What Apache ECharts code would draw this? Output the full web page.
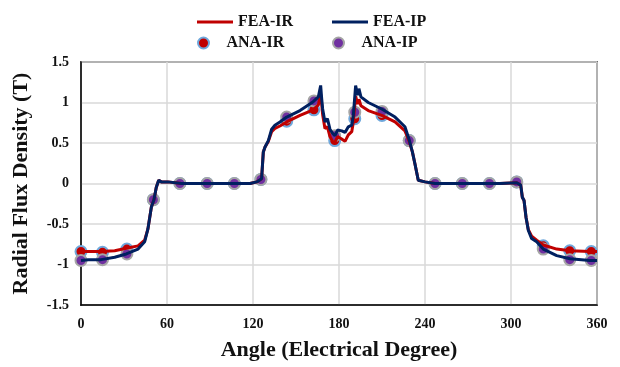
<!DOCTYPE html>
<html>
<head>
<meta charset="utf-8">
<script src="https://cdn.jsdelivr.net/npm/echarts@6/dist/echarts.min.js"></script>
<style>
  html, body { margin: 0; padding: 0; background: #fff; }
  #chart { width: 620px; height: 367px; }
</style>
</head>
<body>
<div id="chart"></div>
<script>
// FEA curves (angle in electrical degrees)
const feaAngle = [0, 5, 14, 23.5, 31.6, 39.8, 44.4, 46.7, 49.1, 50.9, 52.5, 54.2, 56, 60.7, 70, 90, 105, 118,
  122.6, 126, 127.2, 128.4, 130.7, 133, 135.3, 138.8, 143.5, 152.8, 162, 165.6, 167.2, 167.9, 168.6, 170.2,
  171.9, 173.7, 175.5, 177.2, 179, 181.9, 184.2, 186.5, 188.9, 190, 191.6, 193, 193.9, 195.3, 200.4, 209.8,
  219.1, 226, 228.8, 231.2, 233, 235.3, 240, 247, 270, 292.3, 304, 306.8, 307.9, 309.1, 310.5, 312.1, 314.4,
  317.9, 322.5, 331.9, 341.2, 355.1, 360];
const feaIR = [-0.84, -0.84, -0.84, -0.83, -0.80, -0.77, -0.70, -0.56, -0.29, -0.20, -0.05, 0.04, 0.02, 0.02, 0, 0, 0, 0,
  0.02, 0.06, 0.39, 0.45, 0.52, 0.64, 0.68, 0.71, 0.76, 0.84, 0.91, 0.97, 1.10, 0.98, 0.85, 0.68,
  0.70, 0.58, 0.52, 0.51, 0.58, 0.55, 0.52, 0.60, 0.64, 0.76, 1.08, 0.98, 1.04, 0.96, 0.90, 0.84,
  0.76, 0.65, 0.53, 0.39, 0.24, 0.04, 0.02, 0, 0, 0, 0.01, -0.02, -0.17, -0.21, -0.42, -0.57, -0.65,
  -0.70, -0.76, -0.81, -0.83, -0.84, -0.84];
const feaIP = [-0.95, -0.94, -0.94, -0.91, -0.87, -0.81, -0.72, -0.56, -0.29, -0.20, -0.05, 0.04, 0.02, 0.02, 0, 0, 0, 0,
  0.02, 0.06, 0.39, 0.45, 0.53, 0.67, 0.72, 0.76, 0.82, 0.90, 1.01, 1.07, 1.21, 1.05, 0.92, 0.76,
  0.80, 0.67, 0.62, 0.59, 0.66, 0.65, 0.63, 0.70, 0.72, 0.84, 1.21, 1.09, 1.17, 1.07, 1.00, 0.92,
  0.82, 0.70, 0.55, 0.39, 0.24, 0.04, 0.02, 0, 0, 0, 0.01, -0.02, -0.17, -0.21, -0.42, -0.58, -0.68,
  -0.72, -0.81, -0.89, -0.93, -0.95, -0.95];

// analytical points
const anaAngle = [0, 15, 32, 50.5, 69, 88, 107, 125.5, 143.5, 162.5, 177, 191, 210, 229, 247, 266, 285, 304, 322.5, 341, 356];
const anaIR = [-0.84, -0.85, -0.81, -0.2, 0, 0, 0, 0.05, 0.77, 0.91, 0.53, 0.80, 0.84, 0.53, 0, 0, 0, 0.02, -0.77, -0.83, -0.84];
const anaIP = [-0.95, -0.94, -0.87, -0.2, 0, 0, 0, 0.05, 0.82, 1.02, 0.59, 0.88, 0.89, 0.53, 0, 0, 0, 0.02, -0.81, -0.94, -0.95];

const zip = (xs, ys) => xs.map((x, i) => [x, ys[i]]);

const chart = echarts.init(document.getElementById("chart"));
const font = "'Liberation Serif', 'Times New Roman', serif";
const legendText = { fontFamily: font, fontWeight: "bold", fontSize: 16, color: "#111" };

// one legend per entry so the two rows line up
const mkLegend = (item, left, top, w, h) => ({
  data: [item],
  left: left,
  top: top,
  itemWidth: w,
  itemHeight: h,
  itemGap: 0,
  padding: 0,
  textStyle: legendText,
});

chart.setOption({
  animation: false,
  legend: [
    mkLegend({ name: "FEA-IR", icon: "rect" }, 197, 14, 36, 3),
    mkLegend({ name: "FEA-IP", icon: "rect" }, 332, 14, 36, 3),
    mkLegend({ name: "ANA-IR", icon: "circle" }, 197, 35, 36, 11),
    mkLegend({ name: "ANA-IP", icon: "circle" }, 332, 35, 36, 11),
  ],
  grid: {
    left: 81, right: 23, top: 62, bottom: 62,
    show: true, borderColor: "#000", borderWidth: 1.5,
  },
  xAxis: {
    type: "value", min: 0, max: 360, interval: 60,
    name: "Angle (Electrical Degree)",
    nameLocation: "middle", nameGap: 34,
    nameTextStyle: { fontFamily: font, fontWeight: "bold", fontSize: 22, color: "#111" },
    axisLine: { onZero: false, lineStyle: { color: "#000", width: 1.5 } },
    axisTick: { show: false },
    axisLabel: { fontFamily: font, fontWeight: "bold", fontSize: 14, color: "#111", margin: 12 },
    splitLine: { lineStyle: { color: "#d9d9d9", width: 1.5 } },
  },
  yAxis: {
    type: "value", min: -1.5, max: 1.5, interval: 0.5,
    name: "Radial Flux Density (T)",
    nameLocation: "middle", nameGap: 49,
    nameTextStyle: { fontFamily: font, fontWeight: "bold", fontSize: 22, color: "#111" },
    axisLine: { onZero: false, lineStyle: { color: "#000", width: 1.5 } },
    axisTick: { show: false },
    axisLabel: { fontFamily: font, fontWeight: "bold", fontSize: 14, color: "#111", margin: 12 },
    splitLine: { lineStyle: { color: "#d9d9d9", width: 1.5 } },
  },
  series: [
    {
      name: "FEA-IR", type: "line", symbol: "none",
      data: zip(feaAngle, feaIR),
      lineStyle: { color: "#c00000", width: 3 },
      itemStyle: { color: "#c00000" },
    },
    {
      name: "FEA-IP", type: "line", symbol: "none",
      data: zip(feaAngle, feaIP),
      lineStyle: { color: "#002060", width: 3 },
      itemStyle: { color: "#002060" },
    },
    {
      name: "ANA-IR", type: "scatter", symbolSize: 11,
      data: zip(anaAngle, anaIR),
      itemStyle: { color: "#c00000", borderColor: "#6fa8dc", borderWidth: 2, opacity: 1 },
    },
    {
      name: "ANA-IP", type: "scatter", symbolSize: 11,
      data: zip(anaAngle, anaIP),
      itemStyle: { color: "#7030a0", borderColor: "#a5a5a5", borderWidth: 2, opacity: 1 },
    },
  ],
});

window.addEventListener("resize", () => chart.resize());
</script>
</body>
</html>
